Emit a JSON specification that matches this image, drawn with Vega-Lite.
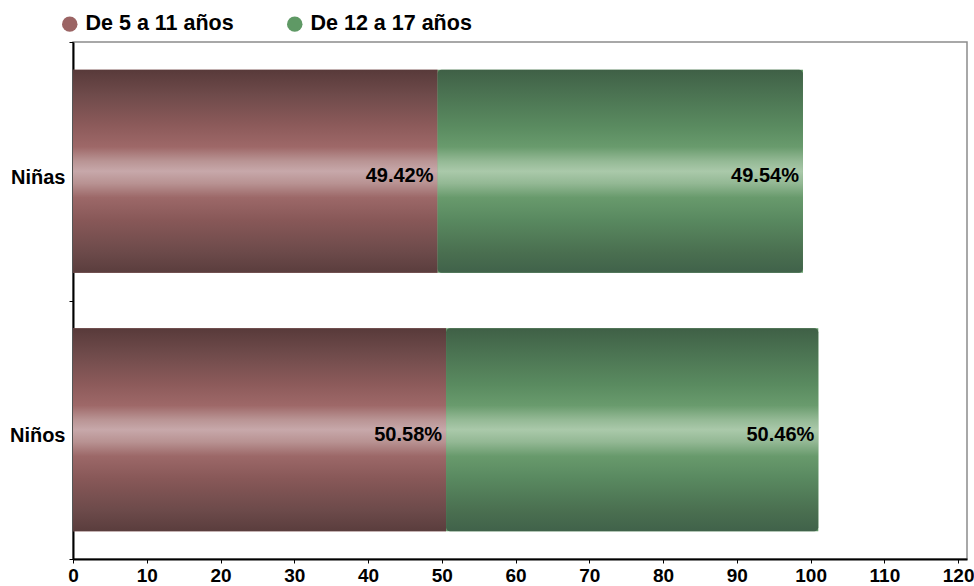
{
  "$schema": "https://vega.github.io/schema/vega-lite/v6.json",
  "autosize": "none",
  "width": 894,
  "height": 517,
  "padding": {"left": 73, "top": 42, "right": 7, "bottom": 27},
  "background": "white",
  "config": {
    "font": "Liberation Sans",
    "view": {"stroke": "#8c8c8c", "strokeWidth": 1.5}
  },
  "data": {
    "values": [
      {"sexo": "Niñas", "grupo": "De 5 a 11 años", "valor": 49.42, "orden": 1},
      {"sexo": "Niñas", "grupo": "De 12 a 17 años", "valor": 49.54, "orden": 2},
      {"sexo": "Niños", "grupo": "De 5 a 11 años", "valor": 50.58, "orden": 1},
      {"sexo": "Niños", "grupo": "De 12 a 17 años", "valor": 50.46, "orden": 2}
    ]
  },
  "transform": [
    {
      "stack": "valor",
      "groupby": ["sexo"],
      "sort": [{"field": "orden", "order": "ascending"}],
      "as": ["x0", "x1"]
    },
    {"calculate": "format(datum.valor, '.2f') + '%'", "as": "etiqueta"}
  ],
  "encoding": {
    "y": {
      "field": "sexo",
      "type": "nominal",
      "sort": ["Niñas", "Niños"],
      "scale": {"paddingInner": 0, "paddingOuter": 0},
      "axis": {
        "title": null,
        "labelFont": "Liberation Sans",
        "labelFontSize": 20,
        "labelFontWeight": "bold",
        "labelColor": "#000000",
        "labelPadding": 4,
        "labelOffset": 6,
        "tickBand": "extent",
        "tickColor": "#000000",
        "tickSize": 4,
        "domainColor": "#000000",
        "domainWidth": 2
      }
    }
  },
  "layer": [
    {
      "mark": {"type": "bar", "height": {"band": 0.785}},
      "encoding": {
        "x": {
          "field": "x0",
          "type": "quantitative",
          "scale": {"domain": [0, 121.2], "nice": false, "zero": true},
          "axis": {
            "title": null,
            "values": [0, 10, 20, 30, 40, 50, 60, 70, 80, 90, 100, 110, 120],
            "grid": false,
            "labelFont": "Liberation Sans",
            "labelFontSize": 19,
            "labelFontWeight": "bold",
            "labelColor": "#000000",
            "labelPadding": 3,
            "labelFlush": false,
            "labelOverlap": false,
            "tickColor": "#000000",
            "tickSize": 4,
            "domainColor": "#000000",
            "domainWidth": 2
          }
        },
        "x2": {"field": "x1"},
        "color": {
          "field": "grupo",
          "type": "nominal",
          "scale": {
            "domain": ["De 5 a 11 años", "De 12 a 17 años"],
            "range": ["#9b6464", "#5f9965"]
          },
          "legend": {
            "title": null,
            "orient": "none",
            "direction": "horizontal",
            "legendX": -14,
            "legendY": -29,
            "symbolType": "circle",
            "symbolSize": 240,
            "symbolStrokeWidth": 0,
            "symbolOpacity": 1,
            "labelFont": "Liberation Sans",
            "labelFontSize": 21.5,
            "labelFontWeight": "bold",
            "labelColor": "#000000",
            "labelLimit": 400,
            "labelOffset": 5,
            "columnPadding": 50,
            "padding": 0
          }
        }
      }
    },
    {
      "transform": [{"filter": "datum.grupo === 'De 5 a 11 años'"}],
      "mark": {
        "type": "bar",
        "height": {"band": 0.785},
        "color": {
          "gradient": "linear",
          "x1": 0, "y1": 0, "x2": 0, "y2": 1,
          "stops": [
            {"offset": 0, "color": "#583a3a"},
            {"offset": 0.12, "color": "#6e4a4a"},
            {"offset": 0.28, "color": "#8d5b5b"},
            {"offset": 0.38, "color": "#9e6868"},
            {"offset": 0.45, "color": "#b99494"},
            {"offset": 0.5, "color": "#c7a8aa"},
            {"offset": 0.56, "color": "#b89292"},
            {"offset": 0.63, "color": "#9c6868"},
            {"offset": 0.74, "color": "#885858"},
            {"offset": 0.9, "color": "#6c4a4a"},
            {"offset": 1, "color": "#5a3d3d"}
          ]
        }
      },
      "encoding": {
        "x": {"field": "x0", "type": "quantitative"},
        "x2": {"field": "x1"}
      }
    },
    {
      "transform": [{"filter": "datum.grupo === 'De 12 a 17 años'"}],
      "mark": {
        "type": "bar",
        "height": {"band": 0.785},
        "cornerRadiusEnd": 4,
        "color": {
          "gradient": "linear",
          "x1": 0, "y1": 0, "x2": 0, "y2": 1,
          "stops": [
            {"offset": 0, "color": "#3f6046"},
            {"offset": 0.12, "color": "#4b7352"},
            {"offset": 0.28, "color": "#5a8b60"},
            {"offset": 0.38, "color": "#699b6d"},
            {"offset": 0.45, "color": "#94b995"},
            {"offset": 0.5, "color": "#aac9aa"},
            {"offset": 0.56, "color": "#93b894"},
            {"offset": 0.63, "color": "#689a6c"},
            {"offset": 0.74, "color": "#598960"},
            {"offset": 0.9, "color": "#4a6f50"},
            {"offset": 1, "color": "#40624a"}
          ]
        }
      },
      "encoding": {
        "x": {"field": "x0", "type": "quantitative"},
        "x2": {"field": "x1"}
      }
    },
    {
      "mark": {
        "type": "text",
        "align": "right",
        "baseline": "middle",
        "dx": -4,
        "dy": 5,
        "font": "Liberation Sans",
        "fontSize": 20,
        "fontWeight": "bold",
        "color": "#000000"
      },
      "encoding": {
        "x": {"field": "x1", "type": "quantitative"},
        "text": {"field": "etiqueta", "type": "nominal"}
      }
    }
  ]
}
